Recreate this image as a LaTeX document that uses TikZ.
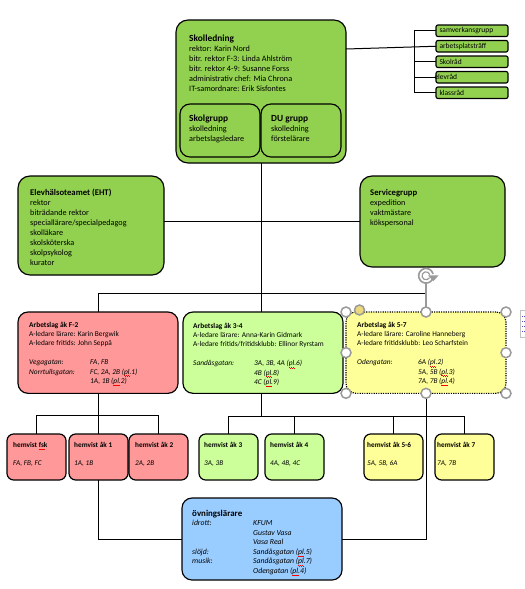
\documentclass[tikz,border=0pt]{standalone}
\usepackage{fontspec}
\setmainfont{Carlito}
\usetikzlibrary{positioning,calc}
\definecolor{grn}{HTML}{92D050}
\definecolor{pnk}{HTML}{FF9999}
\definecolor{lgrn}{HTML}{CCFF99}
\definecolor{ylw}{HTML}{FFFF99}
\definecolor{blu}{HTML}{99CCFF}
\definecolor{hnd}{HTML}{9A9A9A}
\newcommand{\wavea}{\rule[-1.6pt]{0.9pt}{0.4pt}\rule[-2.1pt]{0.9pt}{0.4pt}}
\newcommand{\spell}[1]{\leavevmode\rlap{\textcolor{red}{\wavea\wavea\wavea}}#1}
\newcommand{\gata}[2]{\makebox[18.3mm][l]{#1}#2}
\tikzset{
  box/.style={draw, rectangle, anchor=north west, outer sep=0pt, line width=0.35mm},
  bigbox/.style={box, fill=grn, rounded corners=3.6mm},
  subbox/.style={box, rounded corners=3mm, minimum width=24mm, minimum height=15.9mm},
  tinybox/.style={box, fill=grn, rounded corners=0.6mm, minimum width=21.6mm, minimum height=3.45mm,
                  inner sep=0pt, text width=19.5mm, align=left, font=\fontsize{6.4}{7}\selectfont},
  teambox/.style={box, rounded corners=3mm, minimum width=48mm, minimum height=24.4mm},
  homebox/.style={box, rounded corners=2mm, minimum width=17.7mm, minimum height=13.8mm},
  txt/.style={anchor=north west, inner sep=0pt, align=left, font=\fontsize{7}{8.5}\selectfont},
  smalltxt/.style={anchor=north west, inner sep=0pt, align=left, font=\fontsize{6.3}{7.85}\selectfont},
  hometxt/.style={anchor=north west, inner sep=0pt, align=left, font=\fontsize{6.2}{15.3}\selectfont},
  conn/.style={line width=0.3mm},
  handle/.style={draw=hnd, fill=white, circle, line width=0.45mm, minimum size=3mm, inner sep=0pt}
}
\begin{document}
\begin{tikzpicture}[x=0.3mm, y=-0.3mm]
  \useasboundingbox (0,0) rectangle (525,589);

  % ledning
  \node[bigbox, minimum width=51mm, minimum height=42.9mm] (skol) at (176,20) {};
  \node[subbox] (skgr) at (180,104) {};
  \node[subbox, right=0.3mm of skgr] (dugr) {};
  \node[bigbox, minimum width=43.8mm, minimum height=29.7mm] (eht) at (18,176) {};
  \node[bigbox, minimum width=43.5mm, minimum height=27.3mm] (serv) at (360,176) {};

  % rad till hoger
  \node[tinybox] (samv) at (436,25) {samverkansgrupp};
  \node[tinybox, below=1.2mm of samv] (arbets) {arbetsplatsträff};
  \node[tinybox, below=1.2mm of arbets] (skrad) {Skolråd};
  \node[tinybox, below=1.2mm of skrad] (elev) {\hspace*{-1.5mm}elevråd};
  \node[tinybox, below=1.2mm of elev] (klass) {klassråd};

  % arbetslag
  \node[teambox, fill=pnk] (arbf) at (18,312) {};
  \node[teambox, fill=lgrn, right=1.5mm of arbf] (arbm) {};
  \node[teambox, fill=ylw, densely dotted, right=0.9mm of arbm] (arbs) {};

  % hemvister
  \node[homebox, fill=pnk] (hemf) at (7,434) {};
  \node[homebox, fill=pnk, right=0.9mm of hemf] (hema) {};
  \node[homebox, fill=pnk, right=0.3mm of hema] (hemb) {};
  \node[homebox, fill=lgrn, right=3.3mm of hemb] (hemc) {};
  \node[homebox, fill=lgrn, right=2.1mm of hemc] (hemd) {};
  \node[homebox, fill=ylw, right=12mm of hemd] (heme) {};
  \node[homebox, fill=ylw, right=3.6mm of heme] (hemg) {};

  \node[box, fill=blu, rounded corners=3mm, minimum width=48mm, minimum height=24.6mm] (ovn) at (182,498) {};

  \coordinate[left=6.6mm of samv.west] (brk);
  \coordinate[above=5.7mm of arbf.north] (bustop);
  \coordinate[below=6.6mm of arbf.south] (busf);
  \coordinate[below=6.9mm of arbm.south] (busm);

  % linjer
  \draw[conn] (skol.south) -- (skol.south |- arbm.north);
  \draw[conn] (skol.south |- arbm.south) -- (skol.south |- busm);
  \draw[conn] (serv.west) -- (serv.west -| eht.east);
  \draw[conn] (arbf.north) |- (bustop) -- (bustop -| arbs.north);
  \draw[conn] (arbets.west) -- ($(skol.north east)+(0,-8.7mm)$);
  \draw[conn] (samv.west) -- (brk) -- (brk |- klass.west) -- (klass.west);
  \draw[conn] (skrad.west) -- (brk |- skrad.west);
  \draw[conn] (elev.west) -- (brk |- elev.west);
  \draw[conn] (arbf.south) -- (arbf.south |- hema.north);
  \draw[conn] (hemf.north) |- (busf) -| (hemb.north);
  \draw[conn] (hemc.north) |- (busm) -| (hemd.north);
  \draw[conn] (heme.north) |- (busm) -| (hemg.north);
  \draw[conn] (ovn.east) -| (arbs.south);
  \draw[conn] (ovn.west) -| (hema.south);

  % texter
  \node[txt] (skoltxt) at (189,35) {{\fontsize{8}{9.3}\selectfont\textbf{Skolledning}}\\rektor: Karin Nord\\bitr. rektor F-3: Linda Ahlström\\bitr. rektor 4-9: Susanne Forss\\administrativ chef: Mia Chrona\\IT-samordnare: Erik Sisfontes};
  \node[txt] (skgrtxt) at (189,115) {{\fontsize{8}{9.3}\selectfont\textbf{Skolgrupp}}\\skolledning\\arbetslagsledare};
  \node[txt] (dugrtxt) at (271,115) {{\fontsize{8}{9.3}\selectfont\textbf{DU grupp}}\\skolledning\\förstelärare};
  \node[txt] (ehttxt) at (30,189) {{\fontsize{7.4}{8.5}\selectfont\textbf{Elevhälsoteamet (EHT)}}\\rektor\\biträdande rektor\\speciallärare/specialpedagog\\skolläkare\\skolsköterska\\skolpsykolog\\kurator};
  \node[txt] (servtxt) at (370,189) {{\fontsize{7.4}{8.5}\selectfont\textbf{Servicegrupp}}\\expedition\\vaktmästare\\kökspersonal};

  \node[smalltxt] (arbftxt) at (29,322) {\textbf{Arbetslag åk F-2}\\A-ledare lärare: Karin Bergwik\\A-ledare fritids: John Seppä\\[2.9mm]\itshape\gata{Vegagatan:}{FA, FB}\\\itshape\gata{Norrtullsgatan:}{FC, 2A, 2B (\spell{pl}.1)}\\\itshape\gata{}{1A, 1B (\spell{pl}.2)}};
  \node[smalltxt] (arbmtxt) at (193,323) {\textbf{Arbetslag åk 3-4}\\A-ledare lärare: Anna-Karin Gidmark\\A-ledare fritids/fritidsklubb: Ellinor Ryrstam\\[2.9mm]\itshape\gata{Sandåsgatan:}{3A, 3B, 4A (\spell{pl}.6)}\\\itshape\gata{}{4B (\spell{pl}.8)}\\\itshape\gata{}{4C (\spell{pl}.9)}};
  \node[smalltxt] (arbstxt) at (357,322) {\textbf{Arbetslag åk 5-7}\\A-ledare lärare: Caroline Hanneberg\\A-ledare fritidsklubb: Leo Scharfstein\\[2.9mm]\itshape\gata{Odengatan:}{6A (\spell{pl}.2)}\\\itshape\gata{}{5A, 5B (\spell{pl}.3)}\\\itshape\gata{}{7A, 7B (\spell{pl}.4)}};

  \node[hometxt] (hemftxt) at (13,442) {\textbf{hemvist \spell{fsk}}\\\textit{FA, FB, FC}};
  \node[hometxt] (hematxt) at (74,442) {\textbf{hemvist åk 1}\\\textit{1A, 1B}};
  \node[hometxt] (hembtxt) at (135,442) {\textbf{hemvist åk 2}\\\textit{2A, 2B}};
  \node[hometxt] (hemctxt) at (204,442) {\textbf{hemvist åk 3}\\\textit{3A, 3B}};
  \node[hometxt] (hemdtxt) at (270,442) {\textbf{hemvist åk 4}\\\textit{4A, 4B, 4C}};
  \node[hometxt] (hemetxt) at (367,442) {\textbf{hemvist åk 5-6}\\\textit{5A, 5B, 6A}};
  \node[hometxt] (hemgtxt) at (437,442) {\textbf{hemvist åk 7}\\\textit{7A, 7B}};

  \node[smalltxt, font=\fontsize{6.6}{8.1}\selectfont] (ovntxt) at (192,510) {{\fontsize{7.6}{8.1}\selectfont\textbf{övningslärare}}\\\itshape\gata{idrott:}{KFUM}\\\itshape\gata{}{Gustav Vasa}\\\itshape\gata{}{Vasa Real}\\\itshape\gata{slöjd:}{Sandåsgatan (\spell{pl}.5)}\\\itshape\gata{musik:}{Sandåsgatan (\spell{pl}.7)}\\\itshape\gata{}{Odengatan (\spell{pl}.4)}};

  % markering
  \node[above=8.7mm of arbs.north, minimum size=4.2mm, inner sep=0pt] (rot) {};
  \draw[draw=hnd, line width=0.35mm] (rot.south) -- (arbs.north);
  \draw[draw=hnd, line width=0.5mm] ($(rot)+(15:2.2mm)$) arc[start angle=15, end angle=330, radius=2.2mm];
  \draw[draw=hnd, line width=0.35mm] ($(rot)+(15:1.2mm)$) arc[start angle=15, end angle=330, radius=1.2mm];
  \fill[hnd] ($(rot)+(0.6mm,0.1mm)$) -- ++(3.2mm,0) -- ++(-1.6mm,-1.7mm) -- cycle;
  \node[handle] (hnw) at (arbs.north west) {};
  \node[handle] (hn) at (arbs.north) {};
  \node[handle] (hne) at (arbs.north east) {};
  \node[handle] (hw) at (arbs.west) {};
  \node[handle] (he) at (arbs.east) {};
  \node[handle] (hsw) at (arbs.south west) {};
  \node[handle] (hs) at (arbs.south) {};
  \node[handle] (hse) at (arbs.south east) {};
  \node[handle, fill=ylw!70!brown] (hadj) at (359.5,310) {};
  \draw[draw=hnd!60, line width=0.25mm] (525,310) -| (520,337.5) -- (525,337.5);
  \draw[draw=blue!40!gray, densely dotted, line width=0.25mm] (522,316) -- (525,316);
  \draw[draw=blue!40!gray, densely dotted, line width=0.25mm] (522,321) -- (525,321);
  \draw[draw=blue!40!gray, densely dotted, line width=0.25mm] (522,326) -- (525,326);
  \draw[draw=blue!40!gray, densely dotted, line width=0.25mm] (522,331) -- (525,331);
\end{tikzpicture}
\end{document}
